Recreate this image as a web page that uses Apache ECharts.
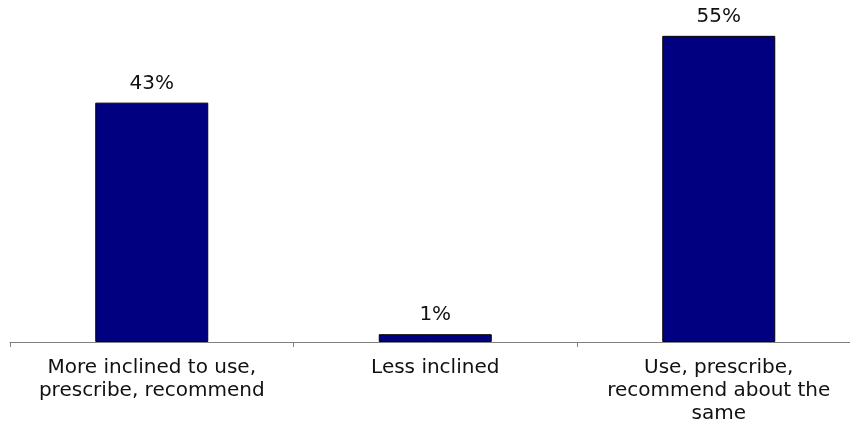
<!DOCTYPE html>
<html>
<head>
<meta charset="utf-8">
<script src="https://cdn.jsdelivr.net/npm/echarts@6/dist/echarts.min.js"></script>
<style>html,body{margin:0;padding:0;background:#fff}#c{width:850px;height:423px}</style>
</head>
<body>
<div id="c"></div>
<script>
var categories = ["More inclined to use,\nprescribe, recommend", "Less inclined", "Use, prescribe,\nrecommend about the\nsame"];
var values = [43, 1.4, 55];
var labels = ["43%", "1%", "55%"];

var chart = echarts.init(document.getElementById('c'), null, {renderer: 'canvas'});
chart.setOption({
  animation: false,
  backgroundColor: '#ffffff',
  grid: {left: 10, width: 850.5, top: 8, bottom: 81, containLabel: false, outerBoundsMode: 'none'},
  xAxis: {
    type: 'category',
    data: categories,
    axisLine: {lineStyle: {color: '#808080', width: 1}},
    axisTick: {show: true, length: 5, lineStyle: {color: '#808080'}},
    axisLabel: {
      color: '#111111', fontFamily: 'DejaVu Sans, sans-serif',
      fontSize: 20, lineHeight: 23, margin: 14, interval: 0
    }
  },
  yAxis: {type: 'value', min: 0, max: 60, show: false, splitLine: {show: false}},
  series: [{
    type: 'bar',
    data: values,
    barWidth: 113,
    itemStyle: {color: '#000080', borderColor: '#000000', borderWidth: 1},
    label: {
      show: true, position: 'top', distance: 9,
      color: '#111111', fontFamily: 'DejaVu Sans, sans-serif', fontSize: 20,
      formatter: function (p) { return labels[p.dataIndex]; }
    }
  }]
});
</script>
</body>
</html>
